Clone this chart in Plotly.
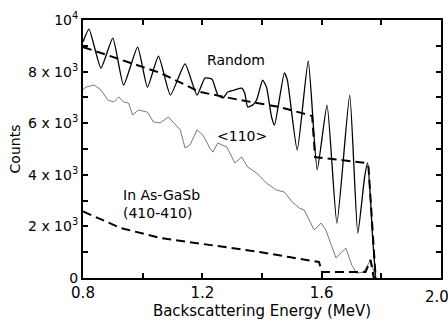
import plotly.graph_objects as go

# Random (solid, oscillating)
rand_E = [0.800, 0.820, 0.860, 0.900, 0.936, 0.983, 1.016, 1.053, 1.093, 1.142, 1.182,
          1.209, 1.232, 1.252, 1.269, 1.285, 1.309, 1.332, 1.342, 1.352, 1.368, 1.382,
          1.402, 1.415, 1.432, 1.442, 1.475, 1.485, 1.518, 1.555, 1.585, 1.618, 1.651,
          1.694, 1.721, 1.744, 1.754, 1.764, 1.771, 1.781]
rand_C = [9150, 9650, 8140, 9300, 7480, 8950, 7400, 8600, 7090, 8300, 7090,
          7750, 7710, 7090, 6980, 7210, 7290, 7360, 7170, 6630, 6700, 6900,
          7670, 7400, 6240, 5930, 7950, 7670, 4960, 8410, 4190, 6700, 2130,
          7090, 1740, 3920, 4460, 3000, 1500, 0]

# Random fit (dashed)
rfit_E = [0.800, 0.810, 1.059, 1.192, 1.325, 1.458, 1.531, 1.568, 1.578, 1.634, 1.747,
          1.757, 1.764, 1.774, 1.781]
rfit_C = [8950, 8915, 7950, 7210, 6900, 6630, 6400, 6280, 4690, 4610, 4460,
          4300, 3020, 1090, 0]

# <110> aligned (thin, noisy)
al_E = [0.800, 0.810, 0.837, 0.860, 0.883, 0.903, 0.920, 0.936, 0.953, 0.966, 0.986,
        1.016, 1.036, 1.059, 1.086, 1.102, 1.126, 1.142, 1.159, 1.182, 1.202, 1.225,
        1.235, 1.252, 1.282, 1.309, 1.332, 1.352, 1.382, 1.415, 1.448, 1.475, 1.501,
        1.525, 1.541, 1.575, 1.598, 1.614, 1.648, 1.681, 1.701, 1.717, 1.741, 1.764,
        1.781]
al_C = [7300, 7400, 7480, 7290, 6900, 6820, 7020, 6820, 6780, 6320, 6510,
        6430, 6050, 6010, 6240, 6050, 5740, 5040, 5160, 5740, 5540, 5040,
        4880, 5230, 5080, 4460, 4690, 4300, 4070, 3680, 3410, 3330, 2950,
        2710, 2640, 1860, 2130, 1860, 780, 1160, 500, 190, 230, 700,
        0]

# InAs-GaSb (410-410) simulation (dashed)
sim_E = [0.800, 0.926, 1.059, 1.392, 1.491, 1.581, 1.591, 1.601, 1.747, 1.764, 1.774, 1.781]
sim_C = [2580, 1940, 1550, 1010, 810, 620, 620, 230, 230, 700, 40, 0]

x_tickvals = [0.8, 1.2, 1.6]
x_ticktext = ["0.8", "1.2", "1.6"]
x_last_label = "2.0"
y_tickvals = [0, 2000, 4000, 6000, 8000, 10000]
y_ticktext = ["0", "2 x 10<sup>3</sup>", "4 x 10<sup>3</sup>",
              "6 x 10<sup>3</sup>", "8 x 10<sup>3</sup>", "10<sup>4</sup>"]

fig = go.Figure()
fig.add_trace(go.Scatter(x=rand_E, y=rand_C, mode="lines", line=dict(color="black", width=1.3, shape="spline", smoothing=0.5)))
fig.add_trace(go.Scatter(x=rfit_E, y=rfit_C, mode="lines", line=dict(color="black", width=2, dash="9px,5px")))
fig.add_trace(go.Scatter(x=al_E, y=al_C, mode="lines", line=dict(color="#555555", width=0.8)))
fig.add_trace(go.Scatter(x=sim_E, y=sim_C, mode="lines", line=dict(color="black", width=2, dash="9px,5px")))

font = "DejaVu Sans"
fig.add_annotation(x=1.312, y=8450, text="Random", showarrow=False, font=dict(family=font, size=14, color="black"))
fig.add_annotation(x=1.332, y=5500, text="<110>", showarrow=False, font=dict(family=font, size=14, color="black"))
fig.add_annotation(x=0.928, y=2870, text="In As-GaSb<br>(410-410)", showarrow=False, xanchor="left",
                   align="left", font=dict(family=font, size=14, color="black"))
fig.add_annotation(x=2.0, xref="x", y=0, yref="paper", yshift=-8, yanchor="top", xanchor="center",
                   xshift=-4, text=x_last_label, showarrow=False, font=dict(family=font, size=15, color="black"))

fig.update_layout(
    width=448, height=322,
    margin=dict(l=83, r=5, t=20, b=44),
    paper_bgcolor="white", plot_bgcolor="white",
    showlegend=False,
    font=dict(family=font, size=14, color="black"),
)
fig.update_xaxes(range=[0.8, 2.0], tickvals=x_tickvals, ticktext=x_ticktext,
                 ticks="inside", ticklen=5, tickwidth=1.5, tickcolor="black",
                 minor=dict(ticks="inside", ticklen=5, tickwidth=1.5, tickcolor="black", tick0=0.8, dtick=0.2),
                 showline=True, linecolor="black", linewidth=2, mirror="ticks",
                 showgrid=False, zeroline=False,
                 title=dict(text="Backscattering Energy (MeV)", font=dict(size=15), standoff=2),
                 tickfont=dict(size=15))
fig.update_yaxes(range=[0, 10000], tickvals=y_tickvals, ticktext=y_ticktext,
                 ticks="inside", ticklen=5, tickwidth=1.5, tickcolor="black",
                 minor=dict(ticks="inside", ticklen=5, tickwidth=1.5, tickcolor="black", tick0=0, dtick=1000),
                 showline=True, linecolor="black", linewidth=2, mirror="ticks",
                 showgrid=False, zeroline=False,
                 title=dict(text="Counts", font=dict(size=14), standoff=4),
                 tickfont=dict(size=14))

fig.write_html("out.html")
